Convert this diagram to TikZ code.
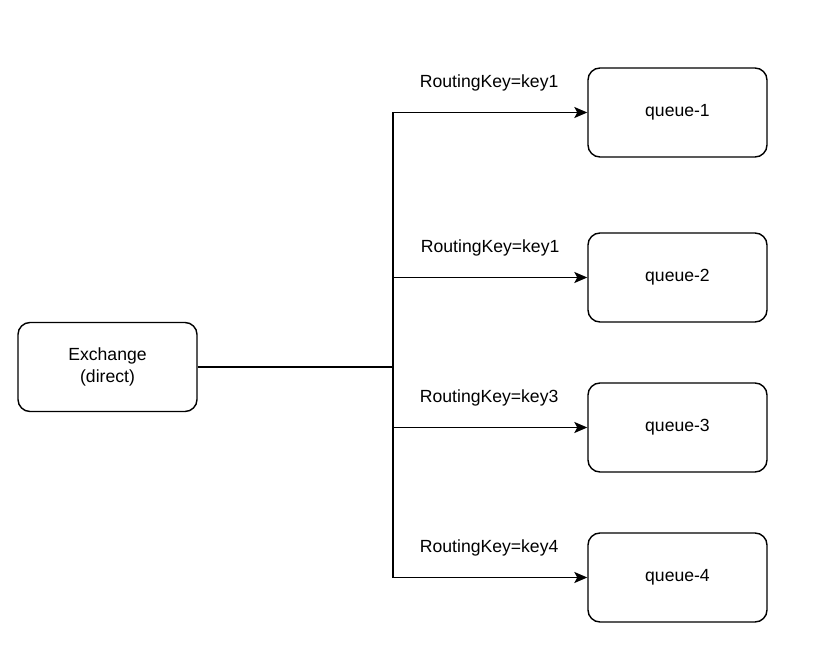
\documentclass[tikz,border=0pt]{standalone}
\usepackage{fontspec}
\setmainfont{Liberation Sans}
\usepackage{tikz}
\usetikzlibrary{arrows.meta, positioning}

\begin{document}
\begin{tikzpicture}[x=1pt, y=-1pt, >={Stealth[length=13pt, width=11pt, inset=3pt]},
  box/.style={draw, line width=1.4pt, rounded corners=12pt, minimum width=179pt, minimum height=89pt, align=center, font=\fontsize{17.6}{22}\selectfont},
  link/.style={line width=1.4pt},
  keylabel/.style={font=\fontsize{17.6}{22}\selectfont}]
  % 画布
  \useasboundingbox[fill=white] (0,0) rectangle (831,658);

  % 交换机
  \node[box] (ex) at (107.5, 367) {Exchange\\(direct)};

  % 队列
  \node[box] (q1) at (677.5, 112.5) {queue-1};
  \node[box] (q2) at (677.5, 277.5) {queue-2};
  \node[box] (q3) at (677.5, 427.5) {queue-3};
  \node[box] (q4) at (677.5, 577.5) {queue-4};

  % 分叉点
  \coordinate (split) at (393, 367);

  % 连线
  \draw[link] (ex.east) -- (split);
  \draw[link, ->] (split) |- (q1.west) node[keylabel, pos=0.75, yshift=30pt, xshift=-1pt] {RoutingKey=key1};
  \draw[link, ->] (split) |- (q2.west) node[keylabel, pos=0.75, yshift=30pt] {RoutingKey=key1};
  \draw[link, ->] (split) |- (q3.west) node[keylabel, pos=0.75, yshift=30pt, xshift=-1pt] {RoutingKey=key3};
  \draw[link, ->] (split) |- (q4.west) node[keylabel, pos=0.75, yshift=30pt, xshift=-1pt] {RoutingKey=key4};

\end{tikzpicture}
\end{document}
